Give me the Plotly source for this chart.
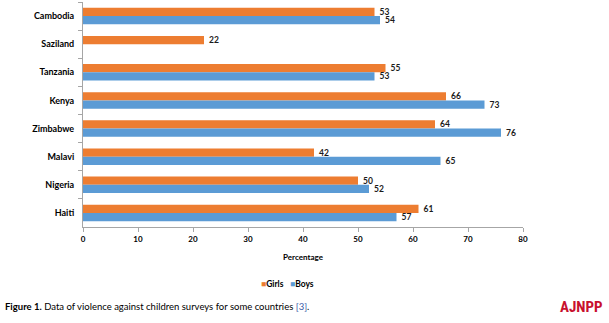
import plotly.graph_objects as go

# Survey results: share of children reporting violence, by country
countries = ["Cambodia", "Saziland", "Tanzania", "Kenya", "Zimbabwe", "Malavi", "Nigeria", "Haiti"]
girls = [53, 22, 55, 66, 64, 42, 50, 61]
boys = [54, None, 53, 73, 76, 65, 52, 57]
x_ticks = [0, 10, 20, 30, 40, 50, 60, 70, 80]

FONT = "Lato"
ORANGE = "#ED7D31"
BLUE = "#5B9BD5"
AXIS = "#A6A6A6"
PLOT_H = 225

fig = go.Figure()
for name, vals, color in [("Girls", girls, ORANGE), ("Boys", boys, BLUE)]:
    fig.add_trace(go.Bar(
        name=name,
        y=countries,
        x=vals,
        orientation="h",
        marker=dict(color=color, line=dict(width=0)),
        text=[("" if v is None else "\u00a0" + str(v)) for v in vals],
        textposition="outside",
        constraintext="none",
        textfont=dict(family=FONT, size=8.5, color="#1a1a1a", weight="bold"),
        cliponaxis=False,
        showlegend=False,
    ))

fig.update_layout(
    width=609, height=323,
    margin=dict(l=83, r=86, t=2, b=96),
    paper_bgcolor="white", plot_bgcolor="white",
    barmode="group", bargap=0.41, bargroupgap=0,
    font=dict(family=FONT, size=9, color="#000000"),
    showlegend=False,
    uniformtext=dict(mode=False),
)

fig.update_xaxes(
    range=[0, 80], tickvals=x_ticks, ticktext=[str(t) for t in x_ticks],
    showgrid=False, zeroline=False,
    showline=True, linecolor=AXIS, linewidth=1,
    ticks="outside", ticklen=4, tickcolor=AXIS,
    tickfont=dict(family=FONT, size=8, weight="bold"),
    title=dict(text="Percentage", font=dict(family=FONT, size=8, weight="bold"), standoff=11),
)
fig.update_yaxes(
    categoryorder="array", categoryarray=countries, autorange="reversed",
    showgrid=False, zeroline=False,
    showline=True, linecolor=AXIS, linewidth=1,
    ticks="outside", ticklen=4, tickcolor=AXIS, tickson="boundaries",
    tickfont=dict(family=FONT, size=9, weight="bold"),
    ticklabelstandoff=6,
)

# Compact legend row under the axis title
fig.add_annotation(
    xref="paper", yref="paper", x=(287 - 83) / 440, y=-(284 - 227) / PLOT_H,
    xanchor="center", yanchor="middle", showarrow=False,
    text=f"<span style='color:{ORANGE}'>■</span><b>Girls</b>   "
         f"<span style='color:{BLUE}'>■</span><b>Boys</b>",
    font=dict(family=FONT, size=8.5, color="#000000"),
)

# Caption line and journal mark
fig.add_annotation(
    xref="paper", yref="paper", x=-80 / 440, y=-(306 - 227) / PLOT_H,
    xanchor="left", yanchor="middle",
    text="<b>Figure 1.</b> Data of violence against children surveys for some countries "
         "<span style='color:#3B5BA9'>[3]</span>.",
    showarrow=False, font=dict(family=FONT, size=9.5, color="#000000"),
)
fig.add_annotation(
    xref="paper", yref="paper", x=(605 - 83) / 440, y=-(307 - 227) / PLOT_H,
    xanchor="right", yanchor="middle",
    text="<b>AJNPP</b>", showarrow=False,
    font=dict(family="Liberation Sans Narrow, Roboto Condensed, Liberation Sans", size=15, color="#C8102E"),
)

fig.write_html("out.html")
